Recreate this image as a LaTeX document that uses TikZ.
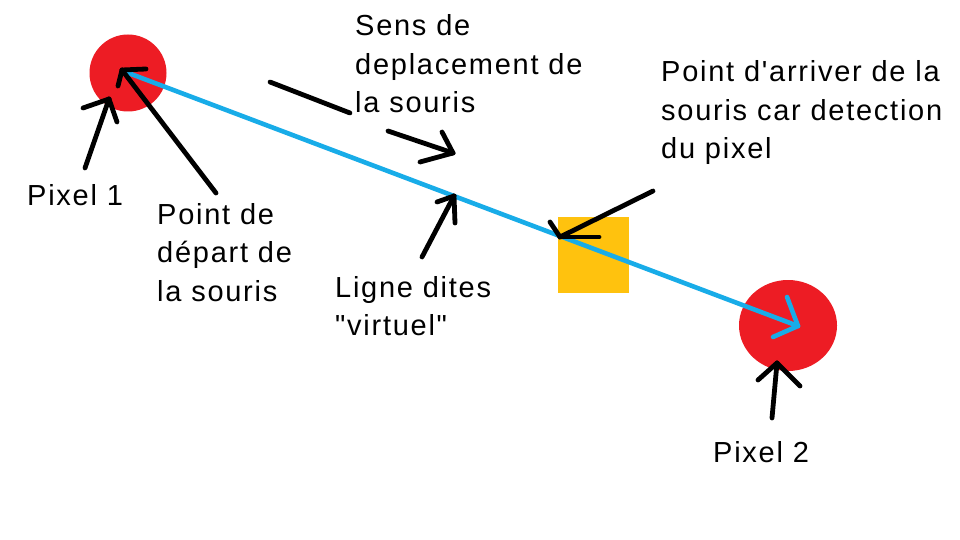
\documentclass[tikz,border=0pt]{standalone}
\usepackage{fontspec}
\usetikzlibrary{shapes.geometric}
\newfontfamily\labfont{Liberation Sans}[LetterSpace=6]
\definecolor{dotred}{HTML}{ED1C24}
\definecolor{boxorange}{HTML}{FFC20E}
\definecolor{lineblue}{HTML}{18ACE8}
\tikzset{
  lbl/.style={anchor=base west, inner sep=0pt, font=\labfont\fontsize{29}{38.5}\selectfont},
  pen/.style={line width=4.8pt, line cap=round, line join=round, draw=black},
  bluepen/.style={line width=4.6pt, line cap=round, line join=round, draw=lineblue},
}
\begin{document}
\begin{tikzpicture}[x=1pt,y=-1pt]
\useasboundingbox[fill=white] (0,0) rectangle (960,540);
% shapes
\node (pix1) [circle, fill=dotred, minimum size=77pt, inner sep=0pt] at (128,73) {};
\node (pix2) [ellipse, fill=dotred, minimum width=98pt, minimum height=91pt, inner sep=0pt] at (788,325.5) {};
\node (sq) [fill=boxorange, minimum width=71pt, minimum height=76pt, inner sep=0pt, anchor=north west] at (558,217) {};
% coordinates
\coordinate (bStart) at (123,71);
\coordinate (bTip) at (798,326);
\coordinate (aP1s) at (85,168);   \coordinate (aP1t) at (109,99);
\coordinate (aDs) at (216,193);   \coordinate (aDt) at (122,70);
\coordinate (aSa) at (270,82);    \coordinate (aSb) at (350,113);
\coordinate (aSc) at (388,131);   \coordinate (aSt) at (453,153);
\coordinate (aLs) at (422,257);   \coordinate (aLt) at (454,196);
\coordinate (aQs) at (653,191);   \coordinate (aQt) at (560,237);
\coordinate (aP2s) at (772,418);  \coordinate (aP2t) at (777,363);
% virtual line
\draw[bluepen] (bStart) -- (bTip);
\draw[bluepen] (bTip) -- ++(-11,-29);
\draw[bluepen] (bTip) -- ++(-25,11);
% black arrows
\draw[pen] (aP1s) -- (aP1t);
\draw[pen] (aP1t) -- ++(-26,9);
\draw[pen] (aP1t) -- ++(8,23);
\draw[pen] (aDs) -- (aDt);
\draw[pen] (aDt) -- ++(24,-1);
\draw[pen] (aDt) -- ++(-4,16);
\draw[pen] (aSa) -- (aSb);
\draw[pen] (aSc) -- (aSt);
\draw[pen] (aSt) -- ++(-11,-21);
\draw[pen] (aSt) -- ++(-33,9);
\draw[pen] (aLs) -- (aLt);
\draw[pen] (aLt) -- ++(-17,6);
\draw[pen] (aLt) -- ++(1,27);
\draw[pen] (aQs) -- (aQt);
\draw[pen] (aQt) -- ++(-10,-15);
\draw[pen] (aQt) -- ++(39,0);
\draw[pen] (aP2s) -- (aP2t);
\draw[pen] (aP2t) -- ++(-19,17);
\draw[pen] (aP2t) -- ++(23,23);
% labels
\node (tSens) [lbl] at (355,36) {\vtop{\hbox{Sens de}\hbox{deplacement de}\hbox{la souris}}};
\node (tArr) [lbl] at (661,82) {\vtop{\hbox{Point d'arriver de la}\hbox{souris car detection}\hbox{du pixel}}};
\node (tP1) [lbl] at (27,205) {Pixel 1};
\node (tDep) [lbl] at (157,224) {\vtop{\hbox{Point de}\hbox{départ de}\hbox{la souris}}};
\node (tLig) [lbl] at (335,297) {\vtop{\hbox{Ligne dites}\hbox{"virtuel"}}};
\node (tP2) [lbl] at (713,462) {Pixel 2};
\end{tikzpicture}
\end{document}
